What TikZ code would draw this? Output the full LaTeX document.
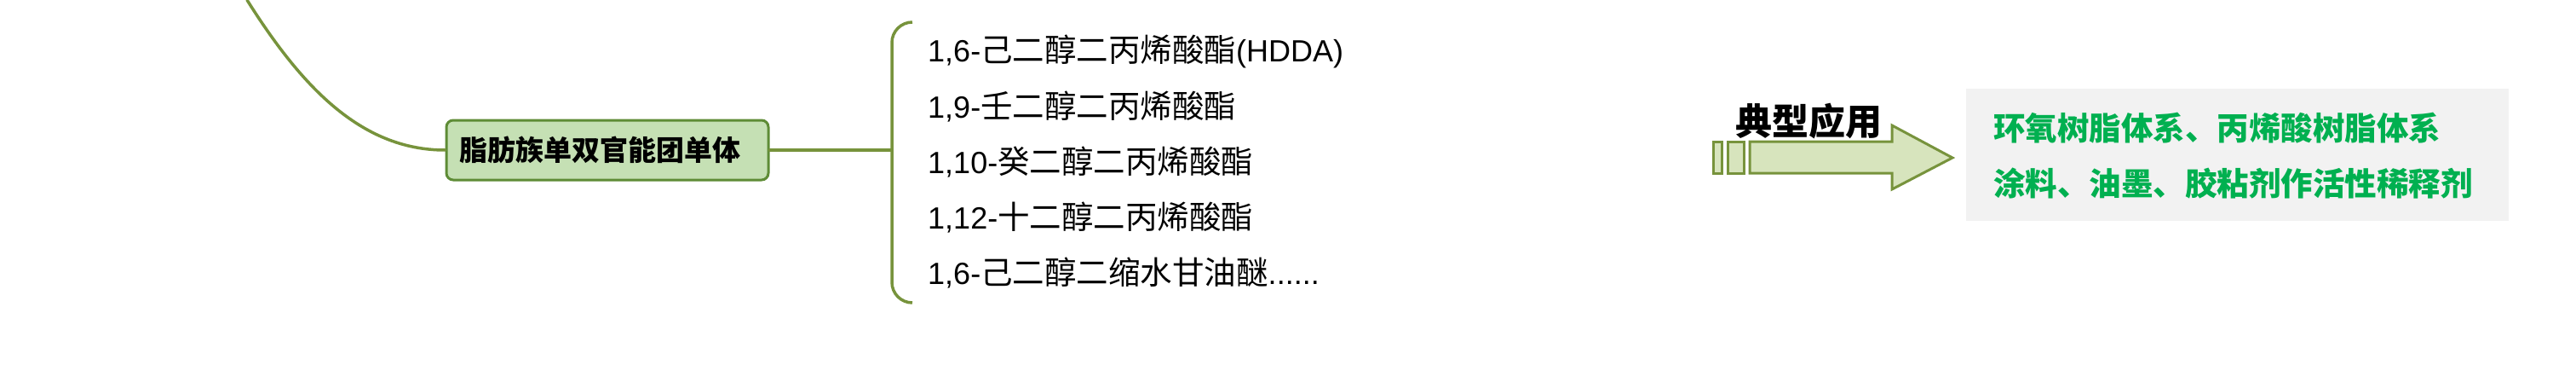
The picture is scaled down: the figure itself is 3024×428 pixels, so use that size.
\documentclass[tikz,border=0pt]{standalone}
\usepackage{fontspec}
\setmainfont{Liberation Sans}
\newfontfamily\cjk{Noto Sans CJK SC}
\newfontfamily\lat{Liberation Sans}
\definecolor{branch}{HTML}{77933C}
\definecolor{boxfill}{HTML}{C5E0B4}
\definecolor{boxdraw}{HTML}{5E8C36}
\definecolor{arrowfill}{HTML}{D7E4BD}
\definecolor{grayfill}{HTML}{F2F2F2}
\definecolor{greentext}{HTML}{00B050}
\newcommand{\cj}[1]{{\fontsize{37.5}{42}\selectfont\cjk #1}}
\tikzset{
  branchline/.style={draw=branch, line width=3.5pt, line cap=round},
  mainbox/.style={draw=boxdraw, fill=boxfill, line width=3pt, rounded corners=8pt,
    minimum height=70pt, text width=348pt, inner xsep=15pt, align=left,
    font=\fontsize{33}{38}\selectfont\cjk\bfseries},
  item/.style={anchor=west, inner sep=0pt, font=\fontsize{36}{42}\selectfont},
  arrowshape/.style={draw=branch, fill=arrowfill, line width=3pt, line join=miter},
  arrowlabel/.style={inner sep=0pt, font=\fontsize{43}{48}\selectfont\cjk\bfseries},
  appbox/.style={fill=grayfill, draw=none, minimum width=637pt, minimum height=155pt, inner sep=0pt},
  apptext/.style={anchor=west, inner sep=0pt, text=greentext, font=\fontsize{37.5}{44}\selectfont\cjk\bfseries}
}
\begin{document}
\begin{tikzpicture}[x=1pt,y=-1pt]
\useasboundingbox (0,0) rectangle (3024,428);
% main node
\node[mainbox] (main) at (713,176) {脂肪族单双官能团单体};
% incoming curve from parent
\coordinate (parent) at (290,0);
\draw[branchline] (parent) .. controls (353,100) and (423,176) .. (main.west);
% bracket
\coordinate (bmid) at (1047,176);
\coordinate (btop) at (1071,26);
\coordinate (bbot) at (1071,355);
\draw[branchline] (main.east) -- (bmid);
\draw[branchline, line cap=butt, rounded corners=24pt] (btop) -| (bbot -| bmid) -- (bbot);
% list items
\node[item] (l1) at (1089,60) {1,6-\cj{己二醇二丙烯酸酯}(HDDA)};
\node[item] (l2) at (1089,125) {1,9-\cj{壬二醇二丙烯酸酯}};
\node[item] (l3) at (1089,190) {1,10-\cj{癸二醇二丙烯酸酯}};
\node[item] (l4) at (1089,255) {1,12-\cj{十二醇二丙烯酸酯}};
\node[item] (l5) at (1089,320) {1,6-\cj{己二醇二缩水甘油醚}......};
% striped arrow
\draw[arrowshape] (2011,166) rectangle (2021,203);
\draw[arrowshape] (2028,166) rectangle (2047,203);
\draw[arrowshape] (2054,166) -- (2221,166) -- (2221,147) -- (2292,185) -- (2221,222) -- (2221,203) -- (2054,203) -- cycle;
\node[arrowlabel] (lab) at (2123,142) {典型应用};
% application box
\node[appbox] (app) at (2626.5,181.5) {};
\node[apptext] (a1) at (2340,150) {环氧树脂体系、丙烯酸树脂体系};
\node[apptext] (a2) at (2340,215) {涂料、油墨、胶粘剂作活性稀释剂};
\end{tikzpicture}
\end{document}
